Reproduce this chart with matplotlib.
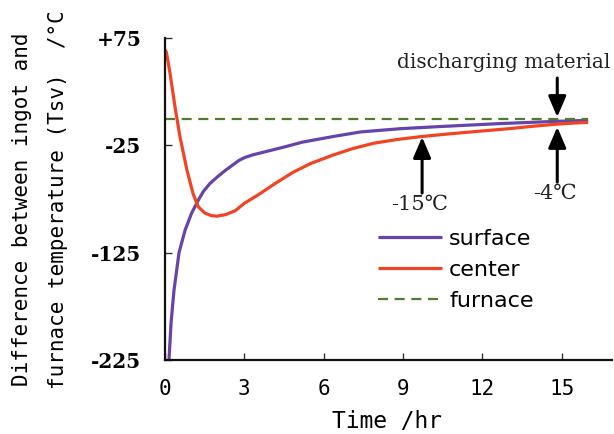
import matplotlib
matplotlib.use("Agg")
import matplotlib.pyplot as plt

# ---- data ----
center_t = [0.0, 0.05, 0.1, 0.19, 0.38, 0.57, 0.83, 1.06, 1.25, 1.5, 1.75, 1.97, 2.3, 2.65,
            3.0, 3.5, 4.2, 4.85, 5.5, 6.36, 7.1, 7.9, 8.8, 9.7, 10.8, 11.9, 13.0, 14.0,
            14.85, 15.5, 16.0]
center_v = [64, 62, 55, 42, 10.5, -17.5, -48, -70, -82, -88, -90.5, -91, -89.5, -86,
            -79, -71.5, -60, -50, -42, -34, -28, -23, -19.5, -16.8, -14.2, -11.8, -9.5, -7.0,
            -5.2, -4.2, -3.6]

surface_t = [0.15, 0.23, 0.34, 0.53, 0.76, 1.0, 1.26, 1.45, 1.7, 2.0, 2.3, 2.55, 2.8, 3.0,
             3.3, 4.5, 5.2, 6.4, 7.4, 8.9, 10.4, 12.7, 14.85, 16.0]
surface_v = [-225, -190, -160, -125, -104, -88.5, -76, -68, -60.5, -54, -48, -43.5, -39, -36.5,
             -34, -26.6, -22, -16.6, -12.5, -9.5, -7.5, -4.7, -2.6, -1.7]

furnace_t = [0.0, 16.0]
furnace_v = [0, 0]

x_ticks = [0, 3, 6, 9, 12, 15]
y_ticks = [75, -25, -125, -225]
y_tick_labels = ["+75", "-25", "-125", "-225"]

legend_labels = ["surface", "center", "furnace"]

# annotation values
discharge_t = 14.83
mark15_t = 9.72
mark15_label = "-15\u2103"
mark4_label = "-4\u2103"

# ---- figure ----
W, H = 614, 434
fig = plt.figure(figsize=(W / 100, H / 100), dpi=100)
ax = fig.add_axes([165 / W, 74 / H, (612 - 165) / W, (360 - 38) / H])

c_purple = "#6644aa"
c_red = "#f04424"
c_green = "#4e7d2e"

l1, = ax.plot(surface_t, surface_v, color=c_purple, lw=2.3, solid_capstyle="butt")
l2, = ax.plot(center_t, center_v, color=c_red, lw=2.3, solid_capstyle="butt")
l3, = ax.plot(furnace_t, furnace_v, color=c_green, lw=1.6, dashes=(4.5, 3))

ax.set_xlim(0, 16.9)
ax.set_ylim(-225, 75)

for s in ["top", "right"]:
    ax.spines[s].set_visible(False)
for s in ["left", "bottom"]:
    ax.spines[s].set_linewidth(1.6)
    ax.spines[s].set_color("#111111")

ax.set_xticks(x_ticks)
ax.set_xticklabels([str(v) for v in x_ticks], family="DejaVu Sans Mono", fontsize=15)
ax.set_yticks(y_ticks)
ax.set_yticklabels(y_tick_labels, family="DejaVu Serif", fontweight="bold", fontsize=14.5)
ax.tick_params(axis="both", direction="in", length=5, width=1.0, color="#333333")
ax.tick_params(axis="x", pad=14)
ax.tick_params(axis="y", pad=17)

# axis labels
fig.text(387 / W, 1 - 422 / H, "Time /hr", family="DejaVu Sans Mono", fontsize=16.5,
         ha="center", va="center")
fig.text(22 / W, 1 - 209 / H, "Difference between ingot and", family="DejaVu Sans Mono",
         fontsize=15, rotation=90, ha="center", va="center")
fig.text(58 / W, 1 - 200 / H, "furnace temperature (Tsv)  /\u00b0C", family="DejaVu Sans Mono",
         fontsize=15, rotation=90, ha="center", va="center")

# legend
leg = ax.legend([l1, l2, l3], legend_labels, loc="upper left",
                bbox_to_anchor=((378 - 165) / 447, (360 - 229) / 322),
                frameon=False, borderpad=0, borderaxespad=0, handlelength=2.9,
                handletextpad=0.3, labelspacing=0.5,
                prop={"family": "DejaVu Sans", "size": 16})

serif = ["DejaVu Serif", "DejaVu Sans", "Noto Sans CJK JP"]
arrow = dict(arrowstyle="-|>,head_length=0.7,head_width=0.3", lw=2.2, color="black",
             mutation_scale=18, shrinkA=0, shrinkB=0)

ax.text(12.82, 52.6, "discharging material", family=serif, fontsize=14.5,
        ha="center", va="center", color="#222222")
ax.annotate("", xy=(discharge_t, 1.4), xytext=(discharge_t, 37.7), arrowprops=arrow)
ax.annotate("", xy=(discharge_t, -7.9), xytext=(discharge_t, -59.2), arrowprops=arrow)
ax.text(14.75, -69.5, mark4_label, family=serif, fontsize=15, ha="center", va="center",
        color="#222222")
ax.annotate("", xy=(mark15_t, -17.3), xytext=(mark15_t, -69.5), arrowprops=arrow)
ax.text(9.64, -79.7, mark15_label, family=serif, fontsize=15, ha="center", va="center",
        color="#222222")

fig.savefig("out.png", dpi=100)
